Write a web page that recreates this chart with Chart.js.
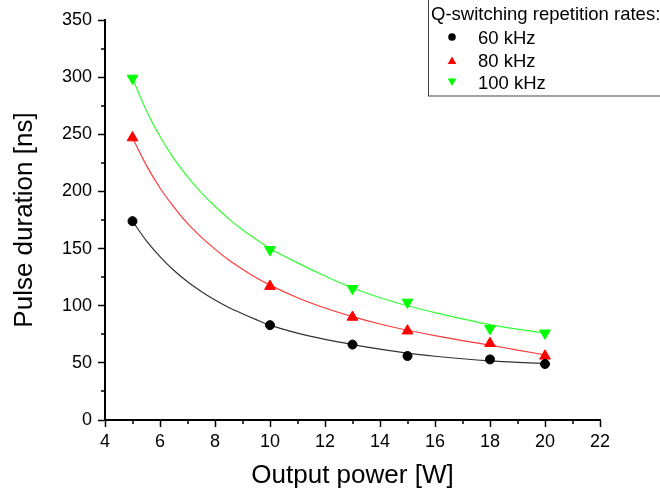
<!DOCTYPE html>
<html>
<head>
<meta charset="utf-8">
<script src="https://cdn.jsdelivr.net/npm/chart.js@4/dist/chart.umd.min.js"></script>
<style>
  html, body { margin: 0; padding: 0; background: #fff; }
  #wrap { width: 660px; height: 493px; }
</style>
</head>
<body>
<div id="wrap"><canvas id="pulseChart" width="660" height="493"></canvas></div>
<script>
// measured points
const powerW = [5, 10, 13, 15, 18, 20];
const dur60 = [174, 83, 66, 56, 53, 49];
const dur80 = [247, 117, 90, 78, 67, 56];
const dur100 = [299, 149, 115, 103, 80, 76];

// fitted curves
const fitPower = [5, 5.5, 6, 6.5, 7, 7.5, 8, 8.5, 9, 9.5, 10, 11, 12, 13, 14, 15, 16, 17, 18, 19, 20];
const fit60 = [174, 157, 143, 131, 121, 112.5, 105, 98.5, 93, 87.8, 83, 76, 70.5, 66, 62, 58.5, 55.8, 53.6, 51.8, 50.5, 49.5];
const fit80 = [247, 223, 203, 186.5, 172, 160, 149.5, 140, 132, 124.5, 118, 107, 98, 90.5, 84, 78.5, 73.8, 69.5, 65.5, 61.2, 57];
const fit100 = [299, 271, 248, 229, 213, 199, 187, 176, 166.5, 158, 150, 137.5, 126, 115.5, 107, 100, 94, 88.5, 83.5, 79.5, 76];

const seriesLabels = ['60 kHz', '80 kHz', '100 kHz'];
const legendTitle = 'Q-switching repetition rates:';

const FONT = "'Liberation Sans', Arial, sans-serif";

function pts(xs, ys) {
  return xs.map((x, i) => ({ x: x, y: ys[i] }));
}

function fitLine(ys, color) {
  return {
    data: pts(fitPower, ys),
    showLine: true,
    borderColor: color,
    borderWidth: 1.2,
    pointRadius: 0,
    cubicInterpolationMode: 'monotone',
    order: 2
  };
}

function markers(label, ys, color, style, radius, rot) {
  return {
    label: label,
    data: pts(powerW, ys),
    showLine: false,
    pointStyle: style,
    pointRadius: radius,
    pointRotation: rot,
    pointBackgroundColor: color,
    pointBorderColor: color,
    pointBorderWidth: 1,
    order: 1
  };
}

function drawMark(ctx, style, x, y, r, color, rot) {
  ctx.save();
  ctx.fillStyle = color;
  ctx.beginPath();
  if (style === 'circle') {
    ctx.arc(x, y, r, 0, Math.PI * 2);
  } else {
    const a0 = rot ? Math.PI : 0;
    for (let k = 0; k < 3; k++) {
      const a = a0 + k * 2 * Math.PI / 3;
      const px = x + Math.sin(a) * r;
      const py = y - Math.cos(a) * r;
      if (k === 0) ctx.moveTo(px, py); else ctx.lineTo(px, py);
    }
    ctx.closePath();
  }
  ctx.fill();
  ctx.restore();
}

// minor ticks + boxed legend in the top right corner
const extras = {
  id: 'extras',
  afterDraw(chart) {
    const ctx = chart.ctx;
    const xs = chart.scales.x, ys = chart.scales.y;
    const area = chart.chartArea;
    ctx.save();
    ctx.strokeStyle = '#000';
    ctx.lineWidth = 1.5;
    ctx.beginPath();
    for (let v = 5; v < 22; v += 2) {
      const px = Math.round(xs.getPixelForValue(v));
      ctx.moveTo(px, area.bottom);
      ctx.lineTo(px, area.bottom + 4);
    }
    for (let v = 25; v < 350; v += 50) {
      const py = Math.round(ys.getPixelForValue(v));
      ctx.moveTo(area.left, py);
      ctx.lineTo(area.left - 4, py);
    }
    ctx.stroke();

    // legend box
    ctx.fillStyle = '#fff';
    ctx.fillRect(428, -1, 240, 97);
    ctx.strokeStyle = '#444';
    ctx.lineWidth = 1;
    ctx.strokeRect(428.5, -1, 240, 97);
    ctx.fillStyle = '#000';
    ctx.font = '18.5px ' + FONT;
    ctx.textBaseline = 'alphabetic';
    ctx.textAlign = 'left';
    ctx.fillText(legendTitle, 431, 20);
    const rows = [37, 60.5, 82];
    const marks = [['circle', '#000', 0, 3.8], ['triangle', '#ff0000', 0, 5], ['triangle', '#00ff00', 1, 5]];
    seriesLabels.forEach((t, i) => {
      const m = marks[i];
      drawMark(ctx, m[0], 452, rows[i] + (m[0] === 'triangle' ? (m[2] ? -1 : 1) : 0), m[3], m[1], m[2]);
      ctx.fillStyle = '#000';
      ctx.fillText(t, 478, rows[i] + 6.5);
    });
    ctx.restore();
  }
};

const ctx = document.getElementById('pulseChart');

new Chart(ctx, {
  type: 'scatter',
  data: {
    datasets: [
      markers(seriesLabels[0], dur60, '#000000', 'circle', 4.5, 0),
      markers(seriesLabels[1], dur80, '#ff0000', 'triangle', 6.2, 0),
      markers(seriesLabels[2], dur100, '#00ff00', 'triangle', 6.2, 180),
      fitLine(fit60, '#333333'),
      fitLine(fit80, '#ff3a3a'),
      fitLine(fit100, '#33ff33')
    ]
  },
  options: {
    responsive: false,
    animation: false,
    events: [],
    layout: { padding: { top: 20, right: 60, left: 0, bottom: 0 } },
    plugins: {
      legend: { display: false },
      tooltip: { enabled: false }
    },
    scales: {
      x: {
        type: 'linear',
        min: 4,
        max: 22,
        afterFit: (s) => { s.height = 73; },
        border: { display: true, color: '#000', width: 2 },
        grid: { display: true, drawOnChartArea: false, drawTicks: true, tickLength: 7, tickColor: '#000', tickWidth: 1.5 },
        ticks: { stepSize: 2, color: '#000', padding: 4, maxRotation: 0, font: { family: FONT, size: 18 } },
        title: { display: true, text: 'Output power [W]', color: '#000', padding: { top: 0, bottom: 2 }, font: { family: FONT, size: 26 } }
      },
      y: {
        min: 0,
        max: 350,
        afterFit: (s) => { s.width = 105; },
        border: { display: true, color: '#000', width: 2 },
        grid: { display: true, drawOnChartArea: false, drawTicks: true, tickLength: 7, tickColor: '#000', tickWidth: 1.5 },
        ticks: { stepSize: 50, color: '#000', padding: 6, font: { family: FONT, size: 18 } },
        title: { display: true, text: 'Pulse duration [ns]', color: '#000', padding: { top: 9, bottom: 0 }, font: { family: FONT, size: 26 } }
      }
    }
  },
  plugins: [extras]
});
</script>
</body>
</html>
